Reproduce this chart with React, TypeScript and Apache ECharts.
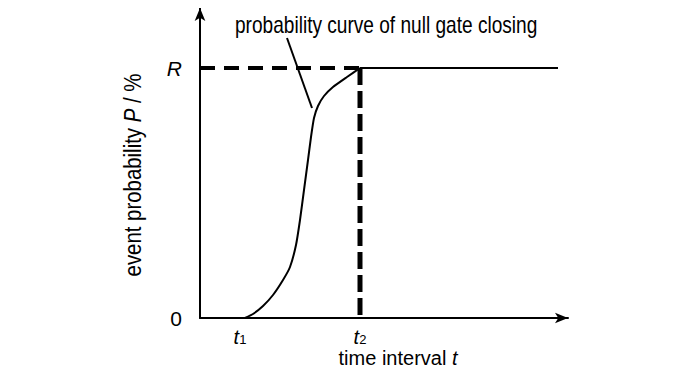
import React, { useEffect, useRef } from "react";
import * as echarts from "echarts";

// time axis units (t1 = 10, t2 = 40), probability in % of R (R = 100)
const curveX = [11.25, 13.25, 15.75, 18.25, 20.75, 22.5, 24, 25, 26, 27, 27.75, 28.5, 29.5, 31, 33.25, 36.75, 40];
const curveY = [0, 1.6, 4.8, 9.2, 15.2, 20.4, 29.2, 39.2, 51.2, 63.2, 72.4, 80, 84.8, 88.8, 92.4, 96.4, 100];

const xTickValues = [10, 40];
const xTickSubs = ["1", "2"];
const yTickValues = [0, 100];
const yTickLabels = ["0", "R"];

const rLevel = 100;
const t2 = 40;
const xEnd = 89.5;
const pointerX = [21.75, 28];
const pointerY = [112, 84];

const title = "probability curve of null gate closing";
const yTitle = "event probability ";
const xTitle = "time interval ";

const FONT = "'Liberation Sans', Arial, Helvetica, sans-serif";

export default function App() {
  const ref = useRef<HTMLDivElement>(null);
  useEffect(() => {
    if (!ref.current) return;
    const chart = echarts.init(ref.current, null, { renderer: "svg" });
    const solid = { color: "#000", width: 2 };
    chart.setOption({
      animation: false,
      backgroundColor: "#fff",
      textStyle: { fontFamily: FONT, color: "#000" },
      grid: { left: 200, right: 132, top: 8, bottom: 57, containLabel: false, outerBoundsMode: "none" },
      xAxis: {
        type: "value",
        min: 0,
        max: 92,
        axisLine: { lineStyle: { color: "#000", width: 2 }, symbol: ["none", "arrow"], symbolSize: [8, 13] },
        axisTick: { show: false },
        splitLine: { show: false },
        axisLabel: {
          customValues: xTickValues,
          margin: 9,
          formatter: (v: number) => {
            const i = xTickValues.indexOf(v);
            return i >= 0 ? `{t|t}{s|${xTickSubs[i]}}` : "";
          },
          rich: {
            t: { fontFamily: FONT, fontSize: 20, fontStyle: "italic", color: "#000", verticalAlign: "top", lineHeight: 19, padding: [0, 0, 3, 0] },
            s: { fontFamily: FONT, fontSize: 13, color: "#000", verticalAlign: "bottom", lineHeight: 13 },
          },
        },
      },
      yAxis: {
        type: "value",
        min: 0,
        max: 124,
        axisLine: { lineStyle: { color: "#000", width: 2 }, symbol: ["none", "arrow"], symbolSize: [8, 13] },
        axisTick: { show: false },
        splitLine: { show: false },
        axisLabel: {
          customValues: yTickValues,
          margin: 18,
          formatter: (v: number) => {
            const i = yTickValues.indexOf(v);
            if (i < 0) return "";
            return v === 0 ? yTickLabels[i] : `{i|${yTickLabels[i]}}`;
          },
          fontFamily: FONT,
          fontSize: 21,
          color: "#000",
          rich: { i: { fontFamily: FONT, fontSize: 21, fontStyle: "italic", color: "#000" } },
        },
      },
      series: [
        {
          type: "line",
          data: [[0, rLevel], [t2, rLevel]],
          symbol: "none",
          lineStyle: { color: "#000", width: 4, type: [15, 9], cap: "butt" },
        },
        {
          type: "line",
          data: [[t2, rLevel], [t2, 0]],
          symbol: "none",
          lineStyle: { color: "#000", width: 5, type: [17, 6], cap: "butt" },
        },
        {
          type: "line",
          data: [[t2, rLevel], [xEnd, rLevel]],
          symbol: "none",
          lineStyle: solid,
        },
        {
          type: "line",
          data: curveX.map((x, i) => [x, curveY[i]]),
          symbol: "none",
          smooth: 0.15,
          lineStyle: solid,
        },
        {
          type: "line",
          data: pointerX.map((x, i) => [x, pointerY[i]]),
          symbol: "none",
          lineStyle: solid,
        },
      ],
      graphic: [
        {
          type: "text",
          x: 235,
          y: 25,
          scaleX: 0.83,
          style: { text: title, font: `23px ${FONT}`, fill: "#000", textAlign: "left", textVerticalAlign: "middle" },
        },
        {
          type: "text",
          x: 133,
          y: 175,
          rotation: Math.PI / 2,
          scaleX: 0.85,
          style: {
            text: `${yTitle}{i|P} / %`,
            font: `24px ${FONT}`,
            fill: "#000",
            textAlign: "center",
            textVerticalAlign: "middle",
            rich: { i: { fontStyle: "italic", fontSize: 24, fontFamily: FONT, fill: "#000" } },
          },
        },
        {
          type: "text",
          x: 398,
          y: 358,
          style: {
            text: `${xTitle}{i|t}`,
            font: `20px ${FONT}`,
            fill: "#000",
            textAlign: "center",
            textVerticalAlign: "middle",
            rich: { i: { fontStyle: "italic", fontSize: 20, fontFamily: FONT, fill: "#000" } },
          },
        },
      ],
    });
    return () => chart.dispose();
  }, []);
  return <div ref={ref} style={{ width: 700, height: 375, margin: -8 }} />;
}
